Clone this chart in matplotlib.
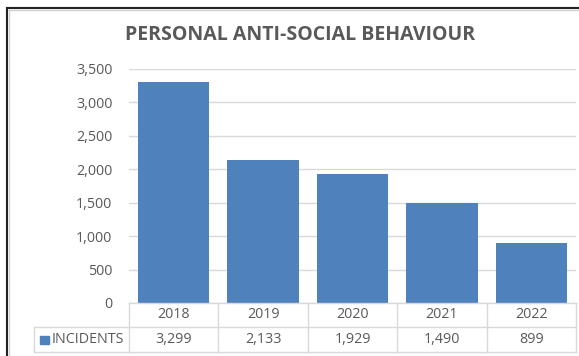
import matplotlib.pyplot as plt
from matplotlib.lines import Line2D
from matplotlib.patches import Rectangle

years = ["2018", "2019", "2020", "2021", "2022"]
incidents = [3299, 2133, 1929, 1490, 899]
series_name = "INCIDENTS"
title = "PERSONAL ANTI-SOCIAL BEHAVIOUR"

W, H = 579, 356
bar_col = "#4f81bd"
txt_col = "#595959"
grid_col = "#d9d9d9"
plt.rcParams['font.family'] = ['Open Sans', 'DejaVu Sans']

fig = plt.figure(figsize=(W / 100, H / 100), dpi=100)

def fx(px):
    return px / W

def fy(py):
    return 1 - py / H

# plot area in pixels
left, right, top, bottom = 129, 576, 69, 303
ax = fig.add_axes([fx(left), fy(bottom), fx(right) - fx(left), fy(top) - fy(bottom)])
x = range(len(years))
ax.bar(x, incidents, width=0.8, color=bar_col, zorder=3)
ax.set_xlim(-0.5, len(years) - 0.5)
ax.set_ylim(0, 3500)
ax.set_yticks(range(0, 3501, 500))
ax.set_yticklabels([f"{v:,}" for v in range(0, 3501, 500)], color=txt_col, fontsize=10.3)
ax.tick_params(axis='y', length=0, pad=12)
ax.set_xticks([])
ax.grid(axis='y', color=grid_col, lw=1, zorder=0)
for s in ax.spines.values():
    s.set_visible(False)

fig.text(0.5 * (fx(128) + fx(473)), fy(35), title, ha='center', va='center',
         fontsize=14, fontweight='bold', color=txt_col)

# data table below the axis
col_w = (right - left) / len(years)
row1, row2, row3 = 303, 327, 352
leg_left = 34
lines = [
    ((left, right), (row1, row1)),
    ((leg_left, right), (row2, row2)),
    ((leg_left, right), (row3, row3)),
    ((leg_left, leg_left), (row2, row3)),
]
for i in range(len(years) + 1):
    xx = left + i * col_w
    lines.append(((xx, xx), (row1, row3)))
for (xs, ys) in lines:
    fig.add_artist(Line2D([fx(xs[0]), fx(xs[1])], [fy(ys[0]), fy(ys[1])],
                          color=grid_col, lw=1))

for i, (yr, v) in enumerate(zip(years, incidents)):
    cx = left + (i + 0.5) * col_w
    fig.text(fx(cx), fy((row1 + row2) / 2), yr, ha='center', va='center',
             fontsize=10.3, color=txt_col)
    fig.text(fx(cx), fy((row2 + row3) / 2), f"{v:,}", ha='center', va='center',
             fontsize=10.3, color=txt_col)

fig.add_artist(Rectangle((fx(40), fy(344)), fx(9), fy(336) - fy(344), color=bar_col))
fig.text(fx(52), fy((row2 + row3) / 2), series_name, ha='left', va='center',
         fontsize=10.3, color=txt_col)

# outer frame (left and top edges)
fig.add_artist(Line2D([fx(7), fx(7)], [fy(8), 0], color="#222222", lw=1.5))
fig.add_artist(Line2D([fx(7), 1], [fy(8), fy(8)], color="#222222", lw=1.5))
fig.add_artist(Line2D([fx(8.5), fx(8.5)], [fy(9.5), 0], color="#d0d0d0", lw=1))
fig.add_artist(Line2D([fx(8.5), 1], [fy(9.5), fy(9.5)], color="#d0d0d0", lw=1))

fig.savefig("out.png", dpi=100)
